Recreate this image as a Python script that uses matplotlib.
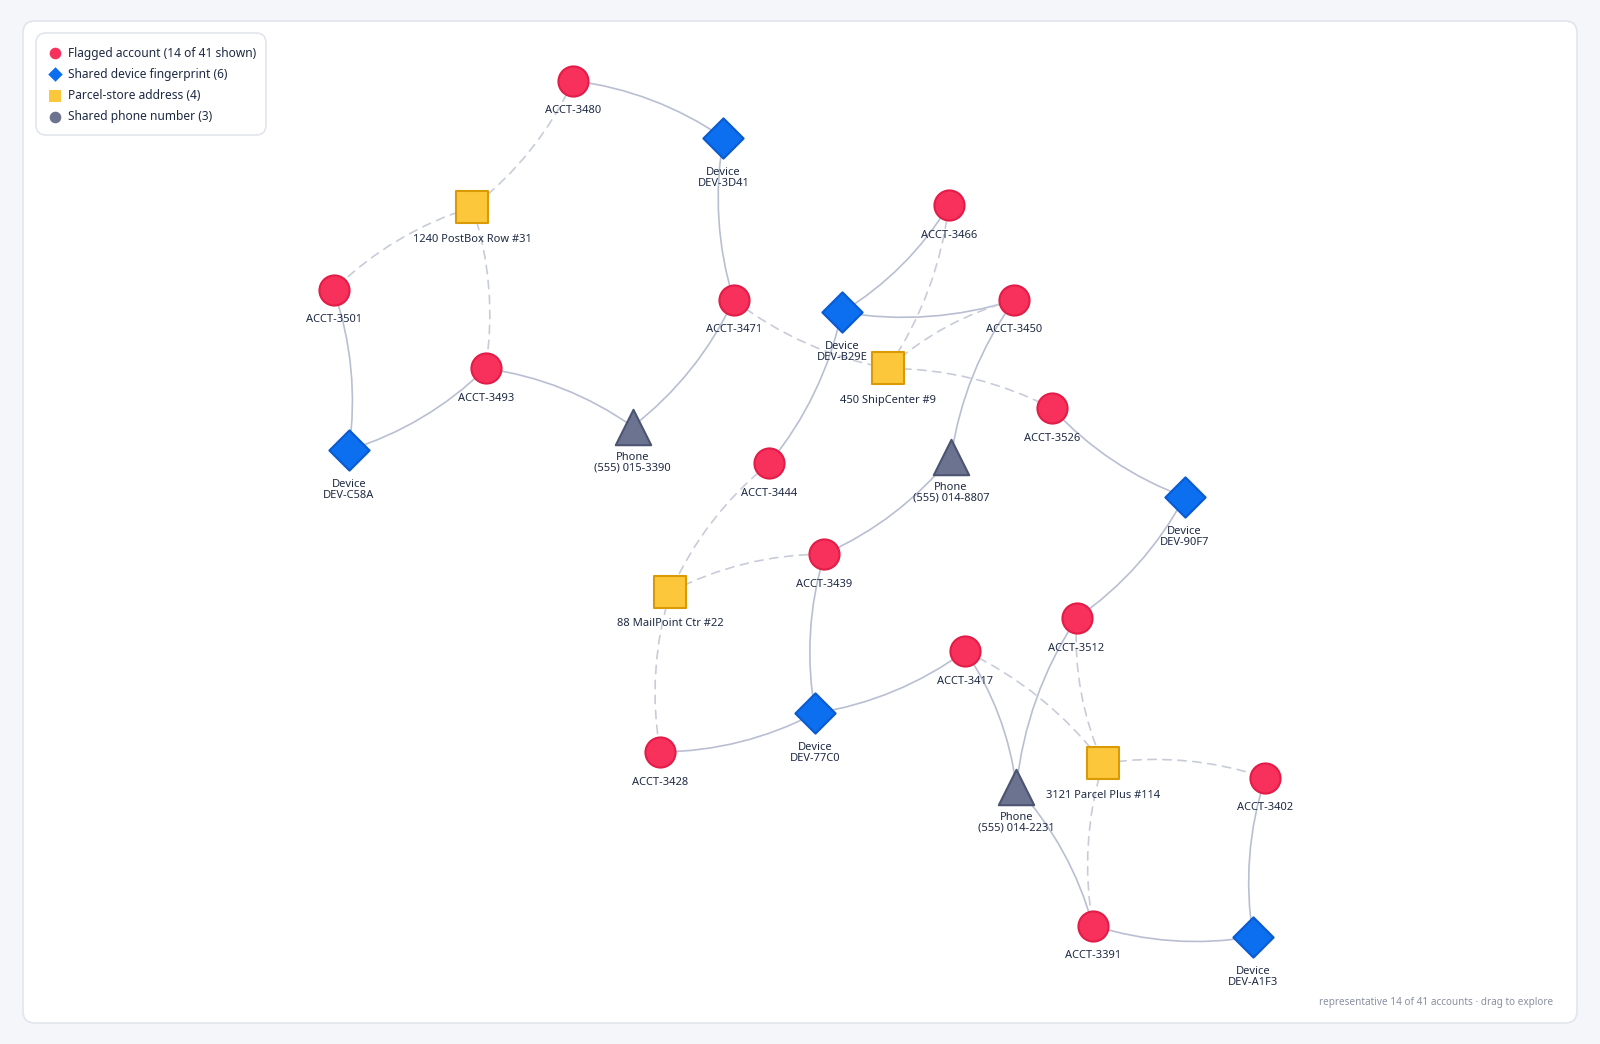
import matplotlib
matplotlib.use("Agg")
import matplotlib.pyplot as plt
from matplotlib.patches import FancyBboxPatch, FancyArrowPatch
from matplotlib.lines import Line2D

S = 1.0204
nodes = {
 "ACCT-3480": ("acct", 562, 79), "DEV-3D41": ("dev", 709, 135), "1240 PostBox Row #31": ("addr", 463, 203),
 "ACCT-3501": ("acct", 327, 284), "ACCT-3493": ("acct", 476, 361), "DEV-C58A": ("dev", 342, 441),
 "(555) 015-3390": ("phone", 620, 418), "ACCT-3471": ("acct", 719, 294), "ACCT-3466": ("acct", 930, 201),
 "DEV-B29E": ("dev", 825, 306), "ACCT-3450": ("acct", 994, 294), "450 ShipCenter #9": ("addr", 870, 361),
 "ACCT-3526": ("acct", 1031, 400), "(555) 014-8807": ("phone", 932, 448), "DEV-90F7": ("dev", 1161, 487),
 "ACCT-3444": ("acct", 754, 454), "ACCT-3439": ("acct", 808, 543), "88 MailPoint Ctr #22": ("addr", 657, 580),
 "ACCT-3512": ("acct", 1055, 606), "ACCT-3417": ("acct", 946, 638), "DEV-77C0": ("dev", 799, 699),
 "ACCT-3428": ("acct", 647, 737), "(555) 014-2231": ("phone", 996, 771), "3121 Parcel Plus #114": ("addr", 1081, 748),
 "ACCT-3402": ("acct", 1240, 762), "ACCT-3391": ("acct", 1071, 907), "DEV-A1F3": ("dev", 1228, 918),
}
solid_edges = [("ACCT-3480","DEV-3D41"),("DEV-3D41","ACCT-3471"),("ACCT-3501","DEV-C58A"),("DEV-C58A","ACCT-3493"),
 ("ACCT-3493","(555) 015-3390"),("(555) 015-3390","ACCT-3471"),("ACCT-3466","DEV-B29E"),("DEV-B29E","ACCT-3450"),
 ("DEV-B29E","ACCT-3444"),("ACCT-3450","(555) 014-8807"),("(555) 014-8807","ACCT-3439"),("ACCT-3526","DEV-90F7"),
 ("DEV-90F7","ACCT-3512"),("ACCT-3439","DEV-77C0"),("DEV-77C0","ACCT-3428"),("DEV-77C0","ACCT-3417"),
 ("ACCT-3417","(555) 014-2231"),("ACCT-3512","(555) 014-2231"),("(555) 014-2231","ACCT-3391"),
 ("ACCT-3391","DEV-A1F3"),("DEV-A1F3","ACCT-3402")]
dashed_edges = [("ACCT-3480","1240 PostBox Row #31"),("1240 PostBox Row #31","ACCT-3501"),("1240 PostBox Row #31","ACCT-3493"),
 ("ACCT-3471","450 ShipCenter #9"),("ACCT-3466","450 ShipCenter #9"),("ACCT-3450","450 ShipCenter #9"),
 ("450 ShipCenter #9","ACCT-3526"),("ACCT-3444","88 MailPoint Ctr #22"),("88 MailPoint Ctr #22","ACCT-3439"),
 ("88 MailPoint Ctr #22","ACCT-3428"),("ACCT-3417","3121 Parcel Plus #114"),("ACCT-3512","3121 Parcel Plus #114"),
 ("3121 Parcel Plus #114","ACCT-3402"),("3121 Parcel Plus #114","ACCT-3391")]

style = {
 "acct": dict(marker="o", s=470, c="#f7305c", edgecolors="#e11d48"),
 "dev": dict(marker="D", s=420, c="#0b6ff0", edgecolors="#0a5ad0"),
 "addr": dict(marker="s", s=560, c="#fdc73c", edgecolors="#d99a06"),
 "phone": dict(marker="^", s=650, c="#6b7391", edgecolors="#4b5470"),
}

plt.rcParams['font.family'] = ['Noto Sans', 'DejaVu Sans']
fig = plt.figure(figsize=(16, 10.44), dpi=100)
fig.patch.set_facecolor("#f5f6fa")
ax = fig.add_axes([0, 0, 1, 1])
ax.set_xlim(0, 1600); ax.set_ylim(1044, 0); ax.axis("off")
ax.add_patch(FancyBboxPatch((23, 21), 1554, 1002, boxstyle="round,pad=0,rounding_size=12",
                            fc="white", ec="#e2e5ec", lw=1.2, zorder=0))

def P(n):
    return nodes[n][1]*S, nodes[n][2]*S

for edges, ls, col in ((solid_edges, "-", "#b9bfd3"), (dashed_edges, (0, (5, 4)), "#c8ccd8")):
    for i, (a, b) in enumerate(edges):
        ax.add_patch(FancyArrowPatch(P(a), P(b), arrowstyle="-", connectionstyle=f"arc3,rad={0.12 if i%2 else -0.12}",
                                     lw=1.2, color=col, linestyle=ls, zorder=1, shrinkA=0, shrinkB=0))

for name, (kind, x, y) in nodes.items():
    ax.scatter([x*S], [y*S], linewidths=1.5, zorder=3, **style[kind])
    if kind == "acct":
        ax.text(x*S, y*S+30, name, ha="center", va="center", fontsize=8, color="#1e2a44", zorder=4)
    elif kind == "dev":
        ax.text(x*S, y*S+40, "Device\n" + name, ha="center", va="center", fontsize=8, color="#1e2a44",
                linespacing=0.95, zorder=4)
    elif kind == "phone":
        ax.text(x*S, y*S+36, "Phone\n" + name, ha="center", va="center", fontsize=8, color="#1e2a44",
                linespacing=0.95, zorder=4)
    else:
        ax.text(x*S, y*S+32, name, ha="center", va="center", fontsize=8, color="#1e2a44", zorder=4)

ax.add_patch(FancyBboxPatch((36, 33), 230, 102, boxstyle="round,pad=0,rounding_size=10",
                            fc="white", ec="#e2e5ec", lw=1.2, zorder=5))
legend_items = [("Flagged account (14 of 41 shown)", "o", "#f7305c"), ("Shared device fingerprint (6)", "D", "#0b6ff0"),
                ("Parcel-store address (4)", "s", "#fdc73c"), ("Shared phone number (3)", "o", "#6b7391")]
for i, (lab, m, c) in enumerate(legend_items):
    y = 53 + i*21.3
    ax.scatter([55], [y], marker=m, s=70 if m != "D" else 55, c=c, zorder=6, linewidths=0)
    ax.text(68, y, lab, va="center", ha="left", fontsize=8.6, color="#1e2a44", fontweight="medium", zorder=6)

ax.text(1553, 1002, "representative 14 of 41 accounts · drag to explore", ha="right", va="center",
        fontsize=7.2, color="#8a90a2")
fig.savefig("out.png", dpi=100, facecolor=fig.get_facecolor())
